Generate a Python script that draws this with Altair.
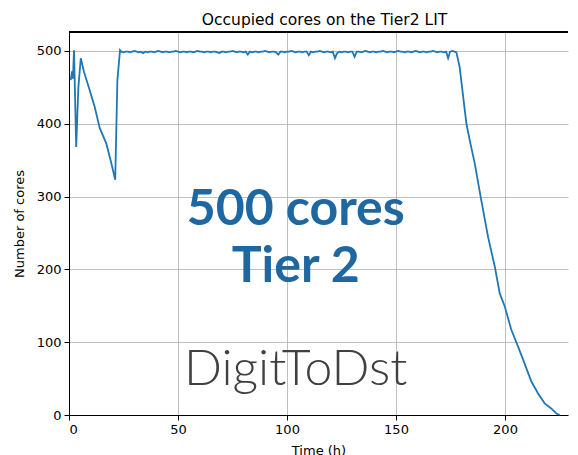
import altair as alt
import pandas as pd

# ---- data ----
early_t = [0.8, 1.4, 1.8, 2.3, 3.3, 4.3, 5.4, 6.9, 9.5, 11.8, 14.1, 17.1, 19.4, 21.2, 22.2, 23.4]
early_v = [460, 472, 462, 501, 368, 450, 490, 471, 446, 423, 394, 373, 346, 323, 460, 501]

plateau_t = list(range(24, 174))
plateau_v = [
    499, 498, 499, 499, 498, 499, 500, 499, 498, 499,
    497, 499, 498, 499, 499, 498, 499, 500, 499, 498,
    499, 499, 498, 499, 499, 500, 499, 498, 499, 499,
    498, 499, 499, 498, 499, 500, 499, 499, 498, 499,
    499, 498, 499, 499, 498, 497, 499, 499, 498, 499,
    499, 500, 499, 498, 499, 499, 498, 499, 495, 499,
    498, 499, 499, 498, 499, 499, 500, 499, 498, 499,
    499, 498, 495, 499, 499, 498, 499, 499, 500, 499,
    498, 499, 499, 498, 499, 499, 494, 499, 498, 499,
    499, 500, 499, 498, 499, 499, 498, 499, 490, 497,
    499, 498, 499, 499, 498, 499, 499, 492, 499, 499,
    498, 499, 500, 499, 498, 499, 499, 498, 499, 499,
    500, 499, 498, 499, 499, 498, 499, 500, 499, 499,
    498, 499, 499, 498, 499, 500, 499, 498, 499, 499,
    498, 499, 499, 500, 499, 498, 499, 499, 498, 499,
]

late_t = [173.9, 174.8, 176.0, 177.7, 179.2, 180.5, 182.3, 184.2, 186.1, 189.1,
          192.2, 195.3, 197.6, 199.9, 202.9, 206.0, 208.3, 212.1, 215.1, 218.2,
          221.2, 223.6, 225.1]
late_v = [490, 499, 500, 498, 478, 445, 400, 372, 346, 295,
          245, 204, 167, 149, 117, 94, 76, 46, 30, 16,
          9, 2, 0]

hours = early_t + plateau_t + late_t
cores = early_v + plateau_v + late_v

labels = ["500 cores", "Tier 2", "DigitToDst"]
label_t = [104, 104, 104]
label_v = [261, 183, 41]

X_MAX = 228.9
Y_MAX = 526
W, H = 499, 383

df = pd.DataFrame({"hours": hours, "cores": cores})

xscale = alt.Scale(domain=[0, X_MAX], nice=False, zero=False)
yscale = alt.Scale(domain=[0, Y_MAX], nice=False)

axis_common = dict(
    labelFont="DejaVu Sans", labelFontSize=13, labelColor="black",
    titleFont="DejaVu Sans", titleFontSize=13, titleFontWeight="normal", titleColor="black",
    tickColor="black", tickSize=5, domainColor="black", domainWidth=1,
    gridColor="#b0b0b0", gridWidth=0.8, labelPadding=3,
)

line = alt.Chart(df).mark_line(color="#1f77b4", strokeWidth=1.8).encode(
    x=alt.X("hours:Q", scale=xscale,
            axis=alt.Axis(title="Time (h)", values=[0, 50, 100, 150, 200], titlePadding=8, **axis_common)),
    y=alt.Y("cores:Q", scale=yscale,
            axis=alt.Axis(title="Number of cores", values=[0, 100, 200, 300, 400, 500], titlePadding=10, **axis_common)),
)

top_spine = alt.Chart(df).mark_rule(color="black", strokeWidth=1).encode(
    x=alt.value(0), x2=alt.value(W), y=alt.value(0)
)

tdf = pd.DataFrame({"hours": label_t, "cores": label_v, "label": labels})

big = alt.Chart(tdf.iloc[:2]).mark_text(
    font="Lato", fontWeight="bold", fontSize=50, color="#1f67a1", align="center", baseline="alphabetic"
).encode(x=alt.X("hours:Q", scale=xscale), y=alt.Y("cores:Q", scale=yscale), text="label:N")

tool = alt.Chart(tdf.iloc[2:]).mark_text(
    font="Lato", fontWeight=300, fontSize=50, color="#404040", align="center", baseline="alphabetic"
).encode(x=alt.X("hours:Q", scale=xscale), y=alt.Y("cores:Q", scale=yscale), text="label:N")

chart = alt.layer(line, top_spine, big, tool).properties(
    width=W, height=H,
    title=alt.TitleParams("Occupied cores on the Tier2 LIT", font="DejaVu Sans", fontSize=15.5,
                          fontWeight="normal", color="black", offset=3, dx=6),
    padding={"left": 5, "right": 0, "top": 5, "bottom": 0},
).configure_view(stroke=None)

chart.save("out.html", embed_options={"renderer": "svg", "actions": False})
